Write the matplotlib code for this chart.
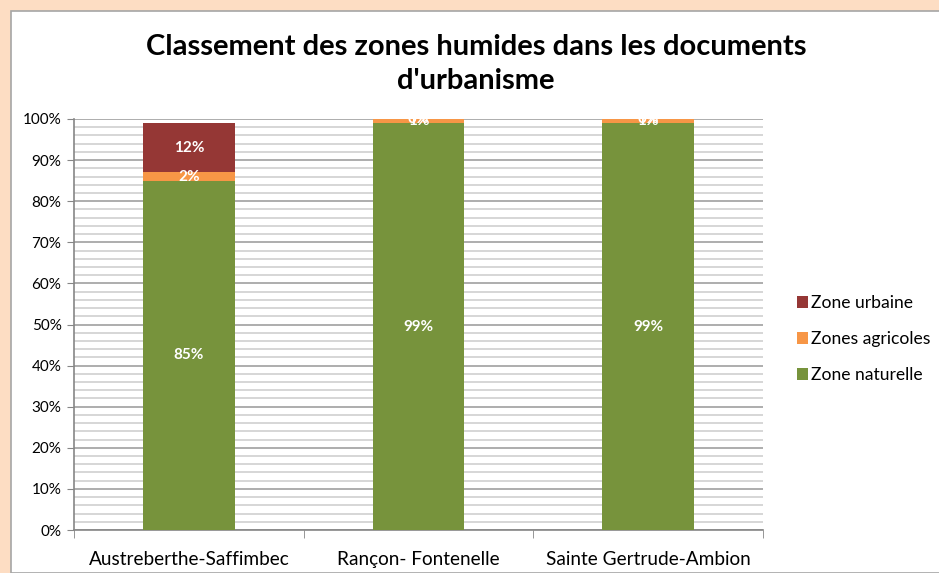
import numpy as np
import matplotlib
matplotlib.use("Agg")
import matplotlib.pyplot as plt
from matplotlib.patches import Rectangle
from matplotlib.ticker import MultipleLocator, PercentFormatter

plt.rcParams['font.family'] = ['Lato', 'DejaVu Sans']

# data
sites = ['Austreberthe-Saffimbec', 'Rançon- Fontenelle', 'Sainte Gertrude-Ambion']
zone_naturelle = [85, 99, 99]
zones_agricoles = [2, 1, 1]
zone_urbaine = [12, 0, 0]

series = [('Zone naturelle', zone_naturelle, '#77933C'),
          ('Zones agricoles', zones_agricoles, '#F79646'),
          ('Zone urbaine', zone_urbaine, '#953735')]

fig = plt.figure(figsize=(9.39, 5.73), dpi=100)
fig.patch.set_facecolor('#FDDDC3')
# white chart area with grey frame
fig.patches.append(Rectangle((10.5 / 939, 0), 1, 1 - 10.5 / 573, transform=fig.transFigure,
                             facecolor='white', edgecolor='#A6A6A6', linewidth=1.2, zorder=0))

ax = fig.add_axes([74 / 939, 1 - 530 / 573, (763 - 74) / 939, (530 - 119) / 573])
ax.set_facecolor('none')
ax.set_zorder(2)

x = np.arange(len(sites))
bottom = np.zeros(len(sites))
handles = []
for name, vals, color in series:
    vals = np.array(vals, dtype=float)
    bars = ax.bar(x, vals, 0.4, bottom=bottom, color=color, label=name, zorder=3)
    handles.append(bars)
    for xi, b, v in zip(x, bottom, vals):
        ax.text(xi, b + v / 2, '%d%%' % v, ha='center', va='center', color='white',
                fontsize=11, fontweight='bold', zorder=4)
    bottom += vals

ax.set_xlim(-0.5, 2.5)
ax.set_ylim(0, 100)
ax.yaxis.set_major_locator(MultipleLocator(10))
ax.yaxis.set_minor_locator(MultipleLocator(2))
ax.yaxis.set_major_formatter(PercentFormatter(decimals=0))
ax.grid(axis='y', which='major', color='#A0A0A0', linewidth=1.2, zorder=1)
ax.grid(axis='y', which='minor', color='#D0D0D0', linewidth=1.2, zorder=1)
ax.tick_params(axis='y', which='minor', length=0)
ax.tick_params(axis='y', which='major', length=5, color='#868686', labelsize=11, pad=4)

ax.set_xticks(x)
ax.set_xticklabels(sites, fontsize=13.7)
ax.tick_params(axis='x', which='major', length=0, pad=15)
ax.set_xticks([-0.5, 0.5, 1.5, 2.5], minor=True)
ax.tick_params(axis='x', which='minor', length=6, color='#868686')

for s in ['top', 'right']:
    ax.spines[s].set_visible(False)
for s in ['left', 'bottom']:
    ax.spines[s].set_color('#868686')
    ax.spines[s].set_linewidth(1.2)

fig.text(476 / 939, 1 - 64 / 573, "Classement des zones humides dans les documents\nd'urbanisme",
         ha='center', va='center', fontsize=21, fontweight='bold', linespacing=1.35)

leg = fig.legend(handles[::-1], [s[0] for s in series][::-1], loc='center left',
                 bbox_to_anchor=(781 / 939, 1 - 339 / 573), frameon=False, fontsize=12.6,
                 handlelength=0.65, handleheight=0.65, handletextpad=0.15, labelspacing=1.15)

fig.savefig('out.png', dpi=100, facecolor=fig.get_facecolor())
